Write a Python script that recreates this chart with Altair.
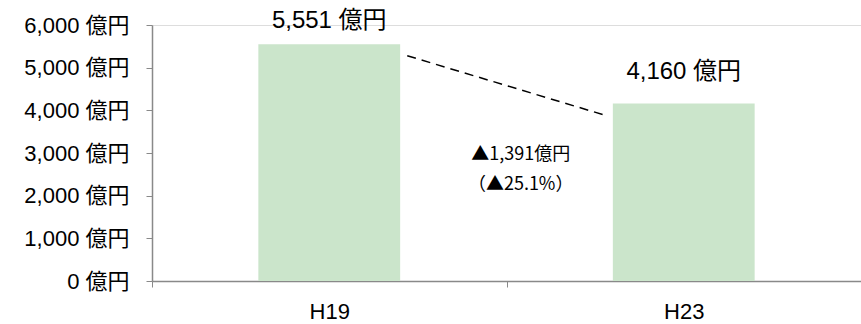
import altair as alt
import pandas as pd

categories = ["H19", "H23"]
values = [5551, 4160]
bar_labels = ["5,551 億円", "4,160 億円"]
y_ticks = [0, 1000, 2000, 3000, 4000, 5000, 6000]

# dashed connector (from H19 to H23), y values
line_from = ["H19"]
line_to = ["H23"]
line_y_start = [5280]
line_y_end = [3880]

annot_lines = ["▲1,391億円", "（▲25.1%）"]
annot_y = [2950, 2250]

FONT = "'Liberation Sans', 'Noto Sans CJK JP', sans-serif"
FONT_ANN = "'Noto Sans CJK JP', sans-serif"

df = pd.DataFrame({"cat": categories, "value": values, "label": bar_labels})
df_line = pd.DataFrame({"a": line_from, "b": line_to, "y0": line_y_start, "y1": line_y_end})
df_ann = pd.DataFrame({"cat": ["H23"] * 2, "y": annot_y, "text": annot_lines})

xscale = alt.Scale(domain=categories, paddingInner=0, paddingOuter=0)
yscale = alt.Scale(domain=[0, 6000], nice=False)

x_axis = alt.Axis(
    title=None, tickBand="extent", labelAngle=0, labelFontSize=22, labelFont=FONT,
    labelColor="#000000", labelPadding=14, domainColor="#898989", tickColor="#898989",
    tickSize=6, domainWidth=1.5, grid=False,
)
y_axis = alt.Axis(
    title=None, values=y_ticks, labelExpr="format(datum.value, ',') + ' 億円'",
    labelFontSize=22, labelFont=FONT, labelColor="#000000", labelPadding=17,
    domainColor="#898989", tickColor="#898989", tickSize=6, domainWidth=1.5, grid=False,
)

bars = alt.Chart(df).mark_bar(width=alt.RelativeBandSize(0.4), color="#CBE5CB").encode(
    x=alt.X("cat:N", scale=xscale, axis=x_axis, sort=categories),
    y=alt.Y("value:Q", scale=yscale, axis=y_axis),
)

lab1 = alt.Chart(df).transform_filter(alt.datum.cat == "H19").mark_text(
    font=FONT, fontSize=24, dy=-16, baseline="alphabetic", color="#000000"
).encode(x=alt.X("cat:N"), y=alt.Y("value:Q"), text="label:N")

lab2 = alt.Chart(df).transform_filter(alt.datum.cat == "H23").mark_text(
    font=FONT, fontSize=24, dy=-25, baseline="alphabetic", color="#000000"
).encode(x=alt.X("cat:N"), y=alt.Y("value:Q"), text="label:N")

conn = alt.Chart(df_line).mark_rule(strokeDash=[9, 6], color="#000000", strokeWidth=1.5).encode(
    x=alt.X("a:N", bandPosition=0.72),
    x2=alt.X2("b:N", bandPosition=0.28),
    y=alt.Y("y0:Q"),
    y2=alt.Y2("y1:Q"),
)

ann = alt.Chart(df_ann).mark_text(font=FONT_ANN, fontSize=18, color="#000000", baseline="middle").encode(
    x=alt.X("cat:N", bandPosition=0.04),
    y=alt.Y("y:Q"),
    text="text:N",
)

chart = alt.layer(bars, conn, lab1, lab2, ann).properties(
    width=709, height=256,
    autosize=alt.AutoSizeParams(type="none"),
    padding={"left": 152, "top": 25, "right": 0, "bottom": 43},
).configure_view(stroke=None).configure(background="#FFFFFF")

chart.save("out.html", embed_options={"renderer": "svg", "actions": False})
